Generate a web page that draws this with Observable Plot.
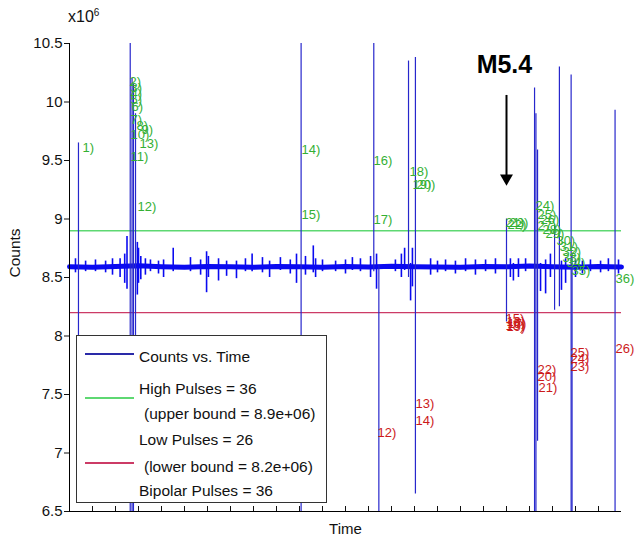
<!DOCTYPE html>
<html><head><meta charset="utf-8">
<script src="https://cdn.jsdelivr.net/npm/d3@7"></script>
<script src="https://cdn.jsdelivr.net/npm/@observablehq/plot@0.6"></script>
<style>
body{margin:0;background:#fff;}
#wrap{position:relative;width:635px;height:541px;font-family:"Liberation Sans",Arial,sans-serif;color:#111;}
#exp{position:absolute;left:68px;top:9px;font-size:16px;line-height:16px;}
#exp span{font-size:10px;position:relative;top:-6px;}
#legend{position:absolute;left:76px;top:335px;width:251px;height:168px;background:#fff;border:1px solid #333;box-sizing:border-box;font-size:15.5px;}
#legend .t{position:absolute;white-space:nowrap;line-height:18px;transform:translateY(-9px);}
#legend .l{position:absolute;left:8px;width:49px;height:1.5px;}
</style></head><body>
<div id="wrap"><div id="chart"></div>
<div id="exp">x10<span>6</span></div>
<div id="legend">
<div class="l" style="top:17px;background:#2a2aa8"></div><div class="t" style="left:62px;top:21px">Counts vs. Time</div>
<div class="l" style="top:61px;background:#5ed872"></div><div class="t" style="left:62px;top:53px">High Pulses = 36</div>
<div class="t" style="left:67px;top:78px">(upper bound = 8.9e+06)</div>
<div class="l" style="top:126px;background:#cc3b66"></div><div class="t" style="left:62px;top:104px">Low Pulses = 26</div>
<div class="t" style="left:67px;top:131px">(lower bound = 8.2e+06)</div>
<div class="t" style="left:62px;top:155px">Bipolar Pulses = 36</div>
</div>
</div>
<script>
const xTicks = [1,2,3,4,5,6,7,8,9,10,11,12,13,14,15,16,17,18,19,20,21,22,23];
const yTicks = [6.5,7,7.5,8,8.5,9,9.5,10,10.5];
const upperBound = 8.9;
const lowerBound = 8.2;

// baseline of the counts series (millions)
const baseT = [0,1,2,3,4,5,6,7,8,9,10,11,12,13,14,15,16,17,18,19,20,21,22,23,24];
const baseV = [8.592,8.588,8.594,8.6,8.592,8.588,8.594,8.592,8.588,8.594,8.592,8.588,8.594,8.59,8.596,8.592,8.59,8.588,8.594,8.592,8.598,8.592,8.588,8.594,8.59];

// small excursions of the counts series
const noiseT  = [0.26,0.7,1.13,1.57,1.87,2.2,2.4,2.5,2.95,3.0,3.1,3.3,3.52,3.87,4.09,4.51,5.26,5.7,5.96,6.04,6.48,6.83,7.26,7.65,7.94,8.39,8.7,9.17,9.6,9.87,10.26,10.6,10.7,11.0,11.57,12.0,12.3,12.65,13.09,13.35,14.17,14.43,14.57,14.83,14.91,15.7,16.0,16.35,16.78,17.22,17.65,18.09,18.52,19.17,19.3,19.52,19.83,20.48,20.7,20.91,21.39,21.57,22.0,22.3,22.65,23.09,23.43,23.87];
const noiseLo = [8.54,8.55,8.55,8.54,8.52,8.5,8.45,8.4,8.35,8.45,8.48,8.52,8.55,8.53,8.5,8.55,8.55,8.52,8.37,8.5,8.47,8.51,8.49,8.55,8.55,8.54,8.5,8.56,8.53,8.45,8.52,8.54,8.5,8.55,8.55,8.53,8.56,8.55,8.5,8.4,8.55,8.5,8.56,8.3,8.42,8.52,8.54,8.55,8.53,8.55,8.52,8.55,8.53,8.5,8.47,8.5,8.55,8.38,8.36,8.5,8.39,8.45,8.5,8.53,8.55,8.54,8.55,8.53];
const noiseHi = [8.66,8.64,8.65,8.64,8.66,8.66,8.7,8.85,8.8,8.75,8.68,8.66,8.65,8.64,8.65,8.75,8.67,8.65,8.72,8.68,8.66,8.64,8.64,8.66,8.7,8.67,8.64,8.67,8.65,8.7,8.68,8.77,8.66,8.65,8.64,8.65,8.67,8.66,8.68,8.7,8.65,8.7,8.75,8.62,8.75,8.66,8.64,8.65,8.64,8.66,8.65,8.65,8.66,8.66,8.62,8.66,8.66,8.62,8.65,8.7,8.64,8.66,8.65,8.64,8.65,8.64,8.66,8.65];

// pulses (large excursions)
const spikeT  = [0.39,2.64,2.72,2.78,2.87,10.07,13.23,13.45,14.74,15.04,19.0,20.22,20.28,20.35,21.09,21.3,21.81,21.85,23.72];
const spikeLo = [7.9,6.3,6.3,6.3,7.5,6.3,8.55,6.3,8.5,6.65,8.12,6.3,6.3,7.1,8.22,8.25,6.3,6.3,6.3];
const spikeHi = [9.65,10.7,10.2,10.15,9.9,10.7,10.7,8.6,10.35,10.38,9.0,10.12,9.9,9.59,8.95,10.3,10.23,8.7,9.93];

// high pulse labels
const highText = ["1)","2)","3)","4)","5)","6)","7)","8)","9)","10)","11)","12)","13)","14)","15)","16)","17)","18)","19)","20)","21)","22)","23)","24)","25)","26)","27)","28)","29)","30)","31)","32)","33)","34)","35)","36)"];
const highT = [0.57,2.61,2.65,2.65,2.65,2.7,2.65,2.91,3.13,2.65,2.65,2.96,3.04,10.09,10.09,13.22,13.22,14.78,14.91,15.09,18.96,19.04,19.13,20.26,20.35,20.48,20.35,20.57,20.7,21.17,21.3,21.43,21.43,21.61,21.83,23.74];
const highV = [9.611,10.175,10.124,10.073,10.021,9.962,9.85,9.799,9.765,9.722,9.534,9.107,9.645,9.594,9.038,9.494,8.996,9.406,9.295,9.295,8.97,8.953,8.97,9.115,9.038,8.996,8.944,8.91,8.876,8.816,8.765,8.722,8.671,8.628,8.56,8.491];

// low pulse labels (1-11 lie behind the legend)
const lowText = ["12)","13)","14)","15)","16)","17)","18)","19)","20)","21)","22)","23)","24)","25)","26)"];
const lowT = [13.39,15.04,15.04,18.96,19.0,19.04,18.96,19.0,20.35,20.39,20.35,21.78,21.78,21.78,23.74];
const lowV = [7.175,7.423,7.278,8.15,8.124,8.107,8.09,8.081,7.654,7.56,7.714,7.739,7.808,7.859,7.893];

// annotation
const annoText = ["M5.4"];
const annoT = [19.0];
const annoTextT = [18.91];
const annoTextV = [10.32];
const annoTop = [10.056];
const annoHead = [9.349];

const base = baseT.map((t,i)=>({t, v: baseV[i]}));
const noise = noiseT.map((t,i)=>({t, lo: noiseLo[i], hi: noiseHi[i]}));
const spikes = spikeT.map((t,i)=>({t, lo: spikeLo[i], hi: spikeHi[i]}));
const highs = highText.map((s,i)=>({s, t: highT[i], v: highV[i]}));
const lows = lowText.map((s,i)=>({s, t: lowT[i], v: lowV[i]}));
const anno = annoText.map((s,i)=>({s, t: annoT[i], tt: annoTextT[i], tv: annoTextV[i], top: annoTop[i], head: annoHead[i]}));

const chart = Plot.plot({
  width: 635, height: 541,
  marginLeft: 69, marginRight: 14, marginTop: 43, marginBottom: 30,
  x: {domain: [0, 24]},
  y: {domain: [6.5, 10.5]},
  style: {fontFamily: "'Liberation Sans', Arial, sans-serif", fontSize: "15px", color: "#111", background: "white"},
  marks: [
    Plot.ruleY([upperBound], {stroke: "#5ed872", strokeWidth: 1.6}),
    Plot.ruleY([lowerBound], {stroke: "#cc3b66", strokeWidth: 1.3}),
    Plot.line(base, {x: "t", y: "v", stroke: "#0a0af0", strokeWidth: 5}),
    Plot.ruleX(noise, {x: "t", y1: "lo", y2: "hi", stroke: "#0a0af0", strokeWidth: 1.6, clip: true}),
    Plot.ruleX(spikes, {x: "t", y1: "lo", y2: "hi", stroke: "#2727cc", strokeWidth: 1.2, clip: true}),
    Plot.text(highs, {x: "t", y: "v", text: "s", fill: "#34b034", textAnchor: "start", fontSize: 13}),
    Plot.text(lows, {x: "t", y: "v", text: "s", fill: "#cc1a1a", textAnchor: "start", fontSize: 13}),
    Plot.ruleX(anno, {x: "t", y1: "top", y2: "head", stroke: "#000", strokeWidth: 2}),
    Plot.dot(anno, {x: "t", y: "head", symbol: "triangle", rotate: 180, r: 4.8, fill: "#000", stroke: null}),
    Plot.text(anno, {x: "tt", y: "tv", text: "s", fontSize: 25, fontWeight: "bold", fill: "#000"}),
    Plot.axisY({ticks: yTicks, tickSize: 5, tickPadding: 2, tickFormat: d => String(d), label: null, fontSize: 15}),
    Plot.axisX({ticks: xTicks, tickSize: 5, dy: -5, tickFormat: () => "", label: null}),
    Plot.ruleX([0], {stroke: "#000"}),
    Plot.ruleY([6.5], {stroke: "#000"}),
    Plot.text(["Counts"], {frameAnchor: "left", dx: -54, rotate: -90, fontSize: 15.5, fill: "#111"}),
    Plot.text(["Time"], {frameAnchor: "bottom", dy: 22, fontSize: 15, fill: "#111"})
  ]
});
document.getElementById("chart").appendChild(chart);
</script>
</body></html>
